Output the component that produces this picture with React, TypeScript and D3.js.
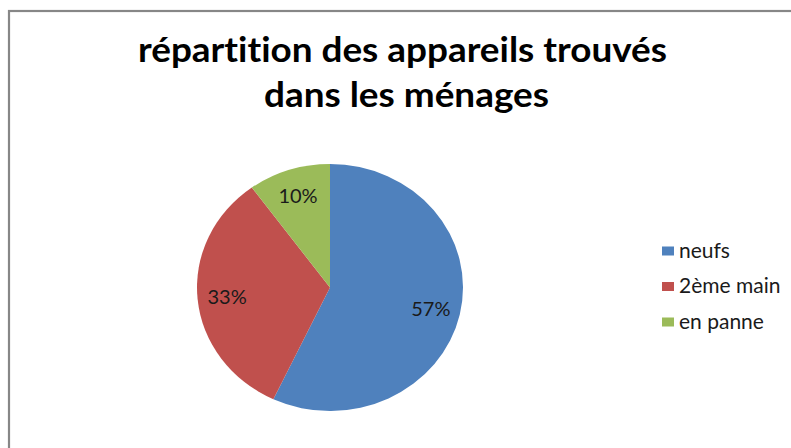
import React from "react";
import * as d3 from "d3";

const categories = ["neufs", "2ème main", "en panne"];
const values = [57, 33, 10];
const labels = ["57%", "33%", "10%"];
const colors = ["#4F81BD", "#C0504D", "#9BBB59"];
const titleLines = ["répartition des appareils trouvés", "dans les ménages"];

const W = 791;
const H = 448;

export default function App() {
  const cx = 330;
  const cy = 287.5;
  const ry = 123.5;
  const sx = 133 / ry;

  const pie = d3.pie<number>().sort(null).value((d) => d)(values);
  const arc = d3.arc<d3.PieArcDatum<number>>().innerRadius(0).outerRadius(ry);
  const labelArc = d3.arc<d3.PieArcDatum<number>>().innerRadius(96).outerRadius(96);

  const legendY = d3.scalePoint<string>().domain(categories).range([251, 322]);

  return (
    <svg
      width={W}
      height={H}
      style={{ position: "absolute", left: 0, top: 0, background: "#fff" }}
    >
      <rect x={9} y={11} width={W + 20} height={H + 20} fill="#fff" stroke="#878787" strokeWidth={2.2} />
      <g fontFamily="Lato, 'Open Sans', sans-serif" fontWeight="bold" fontSize={34} fill="#000" style={{ fontVariantLigatures: "none" }}>
        <text x={138} y={62} textLength={529} lengthAdjust="spacingAndGlyphs">{titleLines[0]}</text>
        <text x={264} y={107} textLength={285} lengthAdjust="spacingAndGlyphs">{titleLines[1]}</text>
      </g>
      <g transform={`translate(${cx},${cy}) scale(${sx},1)`}>
        {pie.map((p, i) => (
          <path key={i} d={arc(p) || ""} fill={colors[i]} />
        ))}
      </g>
      <g fontFamily="Lato, 'Open Sans', sans-serif" fontSize={20} fill="#1a1a1a" textAnchor="middle">
        {pie.map((p, i) => {
          const [lx, ly] = labelArc.centroid(p);
          return (
            <text key={i} x={cx + lx * sx} y={cy + ly} dy="0.36em">
              {labels[i]}
            </text>
          );
        })}
      </g>
      <g fontFamily="Lato, 'Open Sans', sans-serif" fontSize={21} fill="#1a1a1a">
        {categories.map((c, i) => {
          const y = legendY(c)!;
          return (
            <g key={c}>
              <rect x={662} y={y - 4.5} width={12} height={9} fill={colors[i]} />
              <text x={679} y={y + 6.5}>{c}</text>
            </g>
          );
        })}
      </g>
    </svg>
  );
}
